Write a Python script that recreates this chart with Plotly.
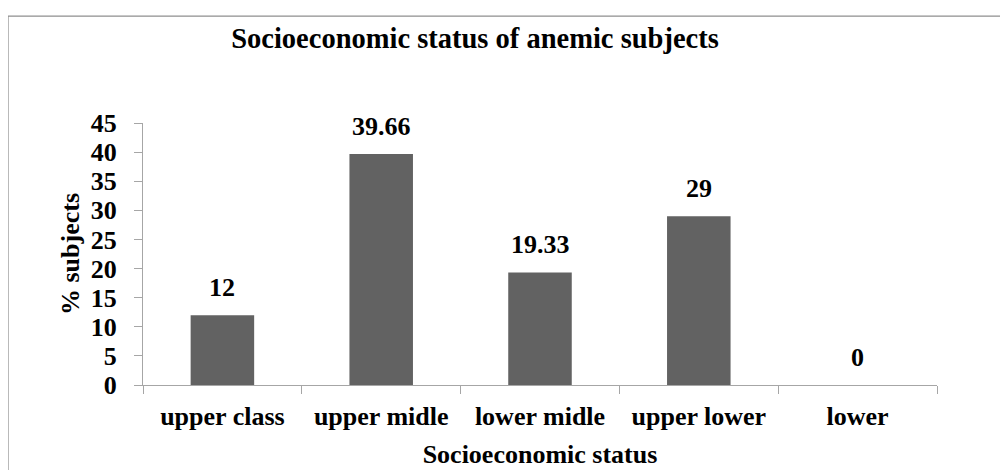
import plotly.graph_objects as go

# data
categories = ["upper class", "upper midle", "lower midle", "upper lower", "lower"]
percent = [12, 39.66, 19.33, 29, 0]
labels = ["12", "39.66", "19.33", "29", "0"]
y_ticks = [0, 5, 10, 15, 20, 25, 30, 35, 40, 45]

FONT = "Liberation Serif"
AXIS_GREY = "#a6a6a6"
BOLD = dict(family=FONT, size=26, color="black", weight="bold")

fig = go.Figure(go.Bar(
    x=categories,
    y=percent,
    marker=dict(color="#626262", line=dict(width=0)),
    hoverinfo="skip",
))

# value labels above each bar
for cat, val, txt in zip(categories, percent, labels):
    fig.add_annotation(
        x=cat, y=val, text=txt, showarrow=False,
        yanchor="bottom", yshift=11, font=BOLD,
    )

# light frame around the whole chart (cut off on the right/bottom like the source)
fig.add_shape(
    type="rect", xref="paper", yref="paper",
    x0=-0.17, x1=1.2, y0=-0.5, y1=1.408,
    line=dict(color="#8f8f8f", width=1.2), layer="below",
)

fig.update_layout(
    width=1008, height=470,
    margin=dict(l=135, r=79, t=115, b=93, autoexpand=False),
    paper_bgcolor="white", plot_bgcolor="white",
    bargap=0.6,
    showlegend=False,
    title=dict(
        text="Socioeconomic status of anemic subjects",
        font=dict(family=FONT, size=28.5, color="black", weight="bold"),
        x=467 / 1008, xanchor="center", xref="container",
        y=1 - 30 / 470, yanchor="middle", yref="container",
    ),
)

fig.update_xaxes(
    showline=True, linecolor=AXIS_GREY, linewidth=1.3,
    ticks="outside", tickson="boundaries", ticklen=8, tickcolor=AXIS_GREY,
    tickfont=BOLD, automargin=False, ticklabelstandoff=8,
    showgrid=False, zeroline=False,
    title=dict(text="Socioeconomic status", font=BOLD, standoff=14),
)

fig.update_yaxes(
    range=[0, 45], tickvals=y_ticks,
    showline=True, linecolor=AXIS_GREY, linewidth=1.3,
    ticks="outside", ticklen=8, tickcolor=AXIS_GREY,
    tickfont=BOLD, automargin=False,
    ticklabelstandoff=12,
    showgrid=False, zeroline=False,
    title=dict(text="% subjects", font=BOLD, standoff=3),
)

fig.write_html("out.html")
